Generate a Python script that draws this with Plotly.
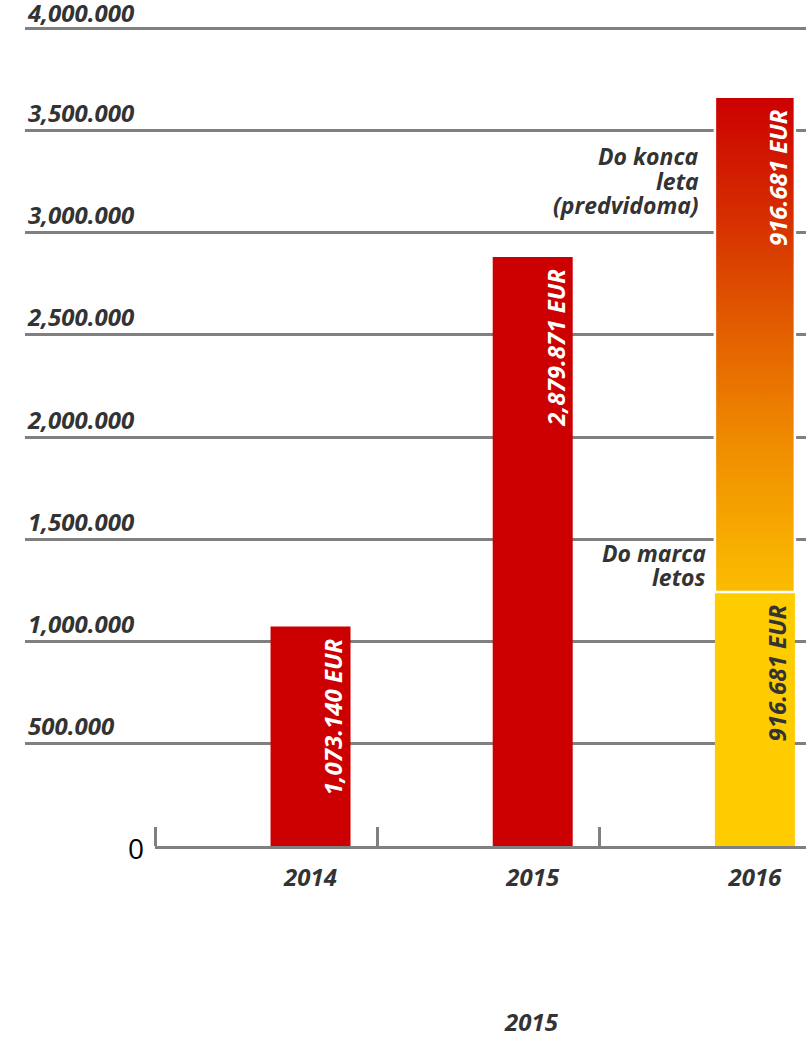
import plotly.graph_objects as go

# ---------------- data ----------------
years = ["2014", "2015", "2016"]
paid_values = [1073140, 2879871, 1242000]      # bar heights (2016 = do marca letos)
forecast_2016 = 2422000                          # rest of 2016 (do konca leta, predvidoma)
bar_labels = ["1,073.140 EUR", "2,879.871 EUR", "916.681 EUR"]
forecast_label = "916.681 EUR"
ytick_vals = [500000, 1000000, 1500000, 2000000, 2500000, 3000000, 3500000, 4000000]
ytick_text = ["500.000", "1,000.000", "1,500.000", "2,000.000",
              "2,500.000", "3,000.000", "3,500.000", "4,000.000"]
note_forecast_lines = ["Do konca", "leta", "(predvidoma)"]
note_march_lines = ["Do marca", "letos"]
bottom_caption = "2015"

# ---------------- style ----------------
W, H = 806, 1049
RED = "#CC0000"
YELLOW = "#FFCC00"
DARK = "#333333"
GRID = "#808080"
FONT = "Open Sans"
BAR_W = 0.36
bar_colors = [RED, RED, YELLOW]
label_colors = ["white", "white", DARK]
grad_scale = [[0.0, "#FBBD00"], [0.3, "#F08C00"], [0.55, "#E15A00"],
              [0.8, "#D42600"], [1.0, "#CC0000"]]

PLOT_BOTTOM = 846            # px of zero line
PX_PER_UNIT = 204.5 / 1e6    # px per EUR
y_max = PLOT_BOTTOM / PX_PER_UNIT


def py(p):
    """pixel row -> paper y"""
    return (PLOT_BOTTOM - p) / PLOT_BOTTOM


# the top tick label would be dropped by plotly as an inside label touching the page edge,
# so it is written as an annotation at the same place
axis_ticktext = ytick_text[:-1] + [""]
top_tick_text = ytick_text[-1]
top_tick_val = ytick_vals[-1]

fig = go.Figure()

# invisible trace so the full-width (x, y) subplot exists for the gridlines / y labels
fig.add_trace(go.Scatter(x=[0.5], y=[0], xaxis="x", yaxis="y", mode="markers",
                         marker=dict(opacity=0), hoverinfo="skip", showlegend=False))

fig.add_trace(go.Bar(
    x=list(range(len(years))), y=paid_values, xaxis="x2", yaxis="y",
    width=BAR_W, marker=dict(color=bar_colors, line=dict(width=0)),
    hoverinfo="skip", showlegend=False,
))

# projected remainder of 2016, stacked on the 2016 bar, vertical gradient
i16 = 2
base16 = paid_values[i16]
top16 = base16 + forecast_2016
fig.add_trace(go.Scatter(
    x=[i16 - BAR_W / 2, i16 + BAR_W / 2, i16 + BAR_W / 2, i16 - BAR_W / 2, i16 - BAR_W / 2],
    y=[base16, base16, top16, top16, base16],
    xaxis="x2", yaxis="y", mode="lines", fill="toself",
    fillgradient=dict(type="vertical", colorscale=grad_scale),
    line=dict(color="white", width=2.5),
    hoverinfo="skip", showlegend=False,
))

label_font = dict(family=FONT, size=24, weight="bold", style="italic")
ann = []
for i, (v, lab, col) in enumerate(zip(paid_values, bar_labels, label_colors)):
    ann.append(dict(
        xref="x2", yref="y", x=i, y=v, text=lab, textangle=-90,
        xanchor="center", yanchor="top", xshift=22, yshift=-10, showarrow=False,
        font=dict(label_font, color=col),
    ))
ann.append(dict(
    xref="x2", yref="y", x=i16, y=top16, text=forecast_label, textangle=-90,
    xanchor="center", yanchor="top", xshift=22, yshift=-10, showarrow=False,
    font=dict(label_font, color="white"),
))

note_font = dict(family=FONT, size=23, color=DARK, weight="bold", style="italic")
for k, line in enumerate(note_forecast_lines):
    ann.append(dict(
        xref="paper", yref="paper", x=701 / W, y=py(156 + 24.5 * k),
        xanchor="right", yanchor="middle", text=line, showarrow=False, font=note_font,
    ))
for k, line in enumerate(note_march_lines):
    ann.append(dict(
        xref="paper", yref="paper", x=708 / W, y=py(553 + 24 * k),
        xanchor="right", yanchor="middle", text=line, showarrow=False, font=note_font,
    ))
ann.append(dict(
    xref="paper", yref="y", x=26 / W, y=top_tick_val, yshift=-2, borderpad=0,
    xanchor="left", yanchor="bottom", text=top_tick_text, showarrow=False,
    font=dict(label_font, color=DARK),
))
ann.append(dict(
    xref="paper", yref="y", x=146 / W, y=0, yshift=-2,
    xanchor="right", yanchor="middle", text="0", showarrow=False,
    font=dict(family=FONT, size=28, color="black"),
))
ann.append(dict(
    xref="paper", yref="paper", x=531 / W, y=py(1021),
    xanchor="center", yanchor="middle", text=bottom_caption, showarrow=False,
    font=dict(label_font, color=DARK),
))

fig.update_layout(
    width=W, height=H,
    margin=dict(l=0, r=0, t=0, b=H - PLOT_BOTTOM, pad=0),
    paper_bgcolor="white", plot_bgcolor="rgba(0,0,0,0)",
    showlegend=False,
    xaxis=dict(domain=[25 / W, 1], range=[0, 1], anchor="y",
               showgrid=False, zeroline=False, showline=False,
               showticklabels=False, ticks="", fixedrange=True),
    xaxis2=dict(domain=[155 / W, 1], range=[-0.7, 2.23], anchor="y",
                tickmode="array", tickvals=list(range(len(years))), ticktext=years,
                ticks="", ticklabelstandoff=8,
                tickfont=dict(label_font, color=DARK),
                minor=dict(tickmode="array", tickvals=[-0.7, 0.3, 1.3, 2.3],
                           ticks="inside", ticklen=19, tickwidth=2.5, tickcolor=GRID,
                           showgrid=False),
                showline=True, linecolor=GRID, linewidth=2.5,
                showgrid=False, zeroline=False, fixedrange=True),
    yaxis=dict(anchor="x", range=[0, y_max],
               tickmode="array", tickvals=ytick_vals, ticktext=axis_ticktext,
               ticks="", ticklabelposition="inside top",
               tickfont=dict(label_font, color=DARK),
               showgrid=True, gridcolor=GRID, gridwidth=2.5,
               zeroline=False, showline=False, fixedrange=True),
    annotations=ann,
)

fig.write_html("out.html")
